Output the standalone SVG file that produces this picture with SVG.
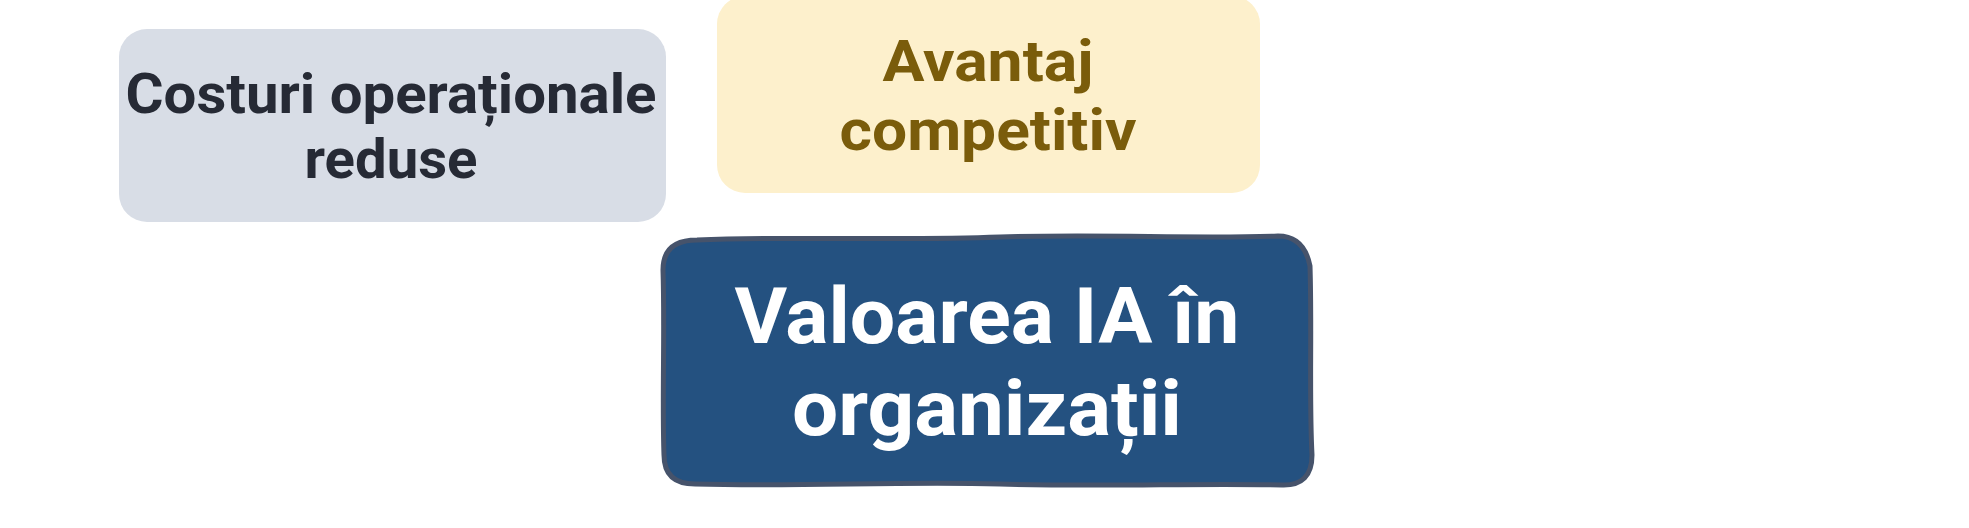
<svg xmlns="http://www.w3.org/2000/svg" width="1969" height="528" viewBox="0 0 1969 528">
<style>
.t{font-family:Roboto,Lato,"DejaVu Sans",sans-serif;font-weight:700;text-anchor:middle;font-variant-ligatures:none;font-feature-settings:"liga" 0}
.gray{fill:#d8dde6}
.grayt{fill:#262a35;font-size:55px}
.yel{fill:#fdf0cc}
.yelt{fill:#7a5c0b;font-size:58px}
.blue{fill:#245180;stroke:#46536b;stroke-width:5;stroke-linejoin:round}
.bluet{fill:#ffffff;font-size:78px}
</style>
<rect width="1969" height="528" fill="#ffffff"/>
<g id="connectors"></g>
<g id="node-costuri">
<rect class="gray" x="119" y="29" width="547" height="193" rx="28"/>
<text class="t grayt"><tspan x="391" y="113" textLength="531" lengthAdjust="spacingAndGlyphs">Costuri operaționale</tspan><tspan x="391" y="178" textLength="173" lengthAdjust="spacingAndGlyphs">reduse</tspan></text>
</g>
<g id="node-avantaj">
<rect class="yel" x="717" y="-4" width="543" height="197" rx="28"/>
<text class="t yelt"><tspan x="988" y="81" textLength="211" lengthAdjust="spacingAndGlyphs">Avantaj</tspan><tspan x="988" y="150" textLength="297" lengthAdjust="spacingAndGlyphs">competitiv</tspan></text>
</g>
<g id="node-valoarea">
<path class="blue" d="M 697 240 C 800 236, 900 241, 1000 237 C 1100 234, 1200 239, 1278 236 Q 1304 236, 1310 266 C 1312 330, 1309 400, 1312 455 Q 1312 486, 1282 485 C 1200 483, 1100 487, 1000 484 C 900 481, 800 487, 695 484 Q 664 484, 664 455 C 662 400, 665 330, 663 270 Q 663 240, 697 240 Z"/>
<text class="t bluet"><tspan x="987" y="343" textLength="505" lengthAdjust="spacingAndGlyphs">Valoarea IA în</tspan><tspan x="987" y="435" textLength="390" lengthAdjust="spacingAndGlyphs">organizații</tspan></text>
</g>
</svg>
